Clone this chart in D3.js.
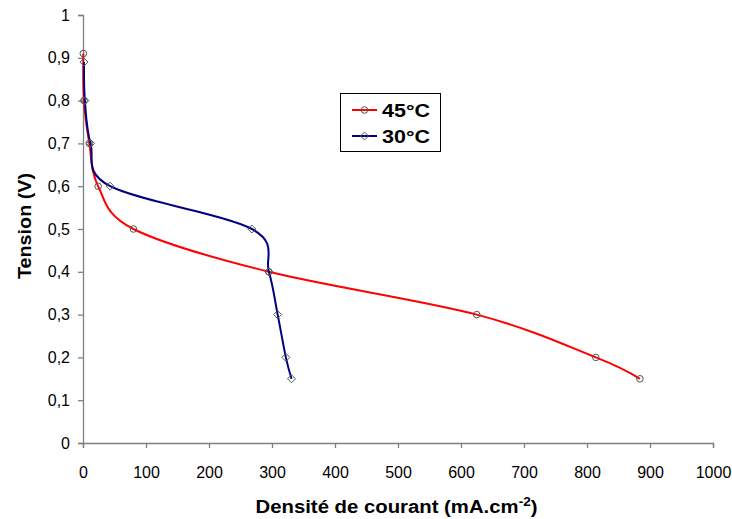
<!DOCTYPE html>
<html><head><meta charset="utf-8">
<script src="https://cdn.jsdelivr.net/npm/d3@7"></script>
<style>body{margin:0;background:#fff}svg{display:block}text{font-family:Arial,"Liberation Sans",sans-serif}</style>
</head><body>
<script>
const seriesNames = ["45°C", "30°C"];
const x45 = [0.5, 1.5, 10, 24, 80, 295, 625, 814, 884];
const y45 = [0.91, 0.8, 0.7, 0.6, 0.5, 0.4, 0.3, 0.2, 0.15];
const x30 = [1.6, 3, 12, 43, 268, 295, 309, 322, 331];
const y30 = [0.89, 0.8, 0.7, 0.6, 0.5, 0.4, 0.3, 0.2, 0.15];
const xTicks = [0,100,200,300,400,500,600,700,800,900,1000];
const yTicks = [0,0.1,0.2,0.3,0.4,0.5,0.6,0.7,0.8,0.9,1];

const W=732,H=519;
const svg=d3.select("body").append("svg").attr("width",W).attr("height",H);
const x=d3.scaleLinear().domain([0,1000]).range([83,713]);
const y=d3.scaleLinear().domain([0,1]).range([443,15]);
const axisColor="#808080";

const yAx=svg.append("g").attr("transform","translate(83,0)")
  .call(d3.axisLeft(y).tickValues(yTicks).tickSize(5).tickPadding(8).tickFormat(d=>String(+d.toFixed(1)).replace(".",",")));
const xAx=svg.append("g").attr("transform","translate(0,443)")
  .call(d3.axisBottom(x).tickValues(xTicks).tickSize(5).tickPadding(19).tickFormat(d=>String(d)));
[xAx,yAx].forEach(a=>{
  a.selectAll("path,line").attr("stroke",axisColor).attr("stroke-width",1.3);
  a.selectAll("text").attr("font-size",16).attr("fill","#000");
});

const line=d3.line().x(d=>x(d[0])).y(d=>y(d[1])).curve(d3.curveCardinal.tension(0));
const d45=x45.map((v,i)=>[v,y45[i]]);
const d30=x30.map((v,i)=>[v,y30[i]]);
const colors=["#ff0000","#000080"];

svg.append("path").datum(d45).attr("d",line).attr("fill","none").attr("stroke",colors[0]).attr("stroke-width",2);
svg.append("path").datum(d30).attr("d",line).attr("fill","none").attr("stroke",colors[1]).attr("stroke-width",2);

const mk="#555";
function circ(g,cx,cy){g.append("circle").attr("cx",cx).attr("cy",cy).attr("r",3.3).attr("fill","none").attr("stroke",mk).attr("stroke-width",1);}
function diam(g,cx,cy){g.append("path").attr("d",`M${cx},${cy-4}L${cx+4},${cy}L${cx},${cy+4}L${cx-4},${cy}Z`).attr("fill","none").attr("stroke",mk).attr("stroke-width",1);}
const gm=svg.append("g");
d45.forEach(d=>circ(gm,x(d[0]),y(d[1])));
d30.forEach(d=>diam(gm,x(d[0]),y(d[1])));

// legend
const lg=svg.append("g");
lg.append("rect").attr("x",340.5).attr("y",93.5).attr("width",100).attr("height",58).attr("fill","#fff").attr("stroke","#000").attr("stroke-width",1);
seriesNames.forEach((n,i)=>{
  const yy=110+i*26;
  lg.append("line").attr("x1",352).attr("x2",377).attr("y1",yy).attr("y2",yy).attr("stroke",colors[i]).attr("stroke-width",2);
  if(i===0) circ(lg,364.5,yy); else diam(lg,364.5,yy);
  lg.append("text").attr("x",382).attr("y",yy+7).attr("font-size",18).attr("font-weight","bold")
    .attr("textLength",48).attr("lengthAdjust","spacingAndGlyphs").text(n);
});

// axis titles
svg.append("text").attr("transform","translate(31,226) rotate(-90) scale(1.1,1)").attr("text-anchor","middle").attr("font-size",18).attr("font-weight","bold").text("Tension (V)");
const xt=svg.append("text").attr("transform","translate(396.5,513) scale(1.13,1)").attr("text-anchor","middle").attr("font-size",18).attr("font-weight","bold");
xt.append("tspan").text("Densité de courant (mA.cm");
xt.append("tspan").attr("dy",-7).attr("font-size",12).text("-2");
xt.append("tspan").attr("dy",7).text(")");
</script>
</body></html>
